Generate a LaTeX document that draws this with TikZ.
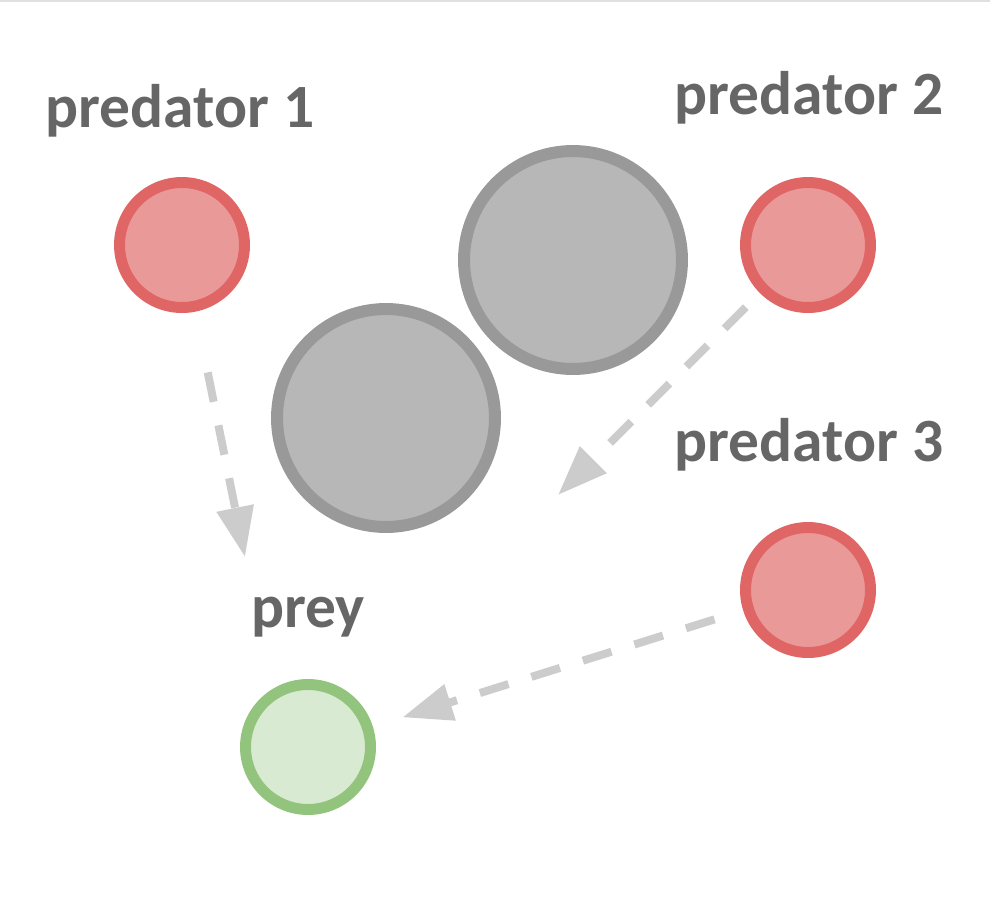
\documentclass[tikz,border=0pt]{standalone}
\usepackage{fontspec}
\setmainfont{Carlito}
\usetikzlibrary{arrows.meta}
\definecolor{redline}{HTML}{E06666}
\definecolor{redfill}{HTML}{EA9999}
\definecolor{greenline}{HTML}{93C47D}
\definecolor{greenfill}{HTML}{D9EAD3}
\definecolor{grayline}{HTML}{999999}
\definecolor{grayfill}{HTML}{B7B7B7}
\definecolor{dashgray}{HTML}{CCCCCC}
\definecolor{textgray}{HTML}{666666}
\tikzset{
    redcircle/.style={draw=redline, fill=redfill, circle, line width=0.22cm, inner sep=0pt, minimum size=2.5cm},
    greencircle/.style={draw=greenline, fill=greenfill, circle, line width=0.22cm, inner sep=0pt, minimum size=2.5cm},
    graycircle/.style={draw=grayline, fill=grayfill, circle, line width=0.24cm, inner sep=0pt, minimum size=4.36cm},
    tag/.style={anchor=base, text=textgray, font=\fontsize{35}{42}\selectfont\bfseries},
    chase/.style={draw=dashgray, line width=0.16cm, dash pattern=on 0.6cm off 0.48cm, -{Triangle[length=1cm, width=0.72cm]}}
}

\begin{document}
\begin{tikzpicture}[x=0.02cm, y=-0.02cm]
  \useasboundingbox (0,0) rectangle (990,896);
  \draw[draw=black!12, line width=0.04cm](0,1)--(990,1);
  \node(O1)[graycircle] at (573,260){};
  \node(O2)[graycircle] at (386,418){};
  \node(P1)[redcircle] at (182,245){};
  \node(P2)[redcircle] at (808,245){};
  \node(P3)[redcircle] at (808,590){};
  \node(R)[greencircle] at (308,747){};
  \node(L1)[tag] at (180,127){predator 1};
  \node(L2)[tag] at (809,114){predator 2};
  \node(L3)[tag] at (809,461){predator 3};
  \node(L4)[tag] at (308,627){prey};
  \coordinate(T1) at (245,557);
  \coordinate(T2) at (558,495);
  \draw[chase, shorten <=1.24cm](P1)--(T1);
  \draw[chase, shorten <=0.4cm](P2)--(T2);
  \draw[chase, shorten <=0.6cm, shorten >=0.62cm](P3)--(R);
\end{tikzpicture}
\end{document}
